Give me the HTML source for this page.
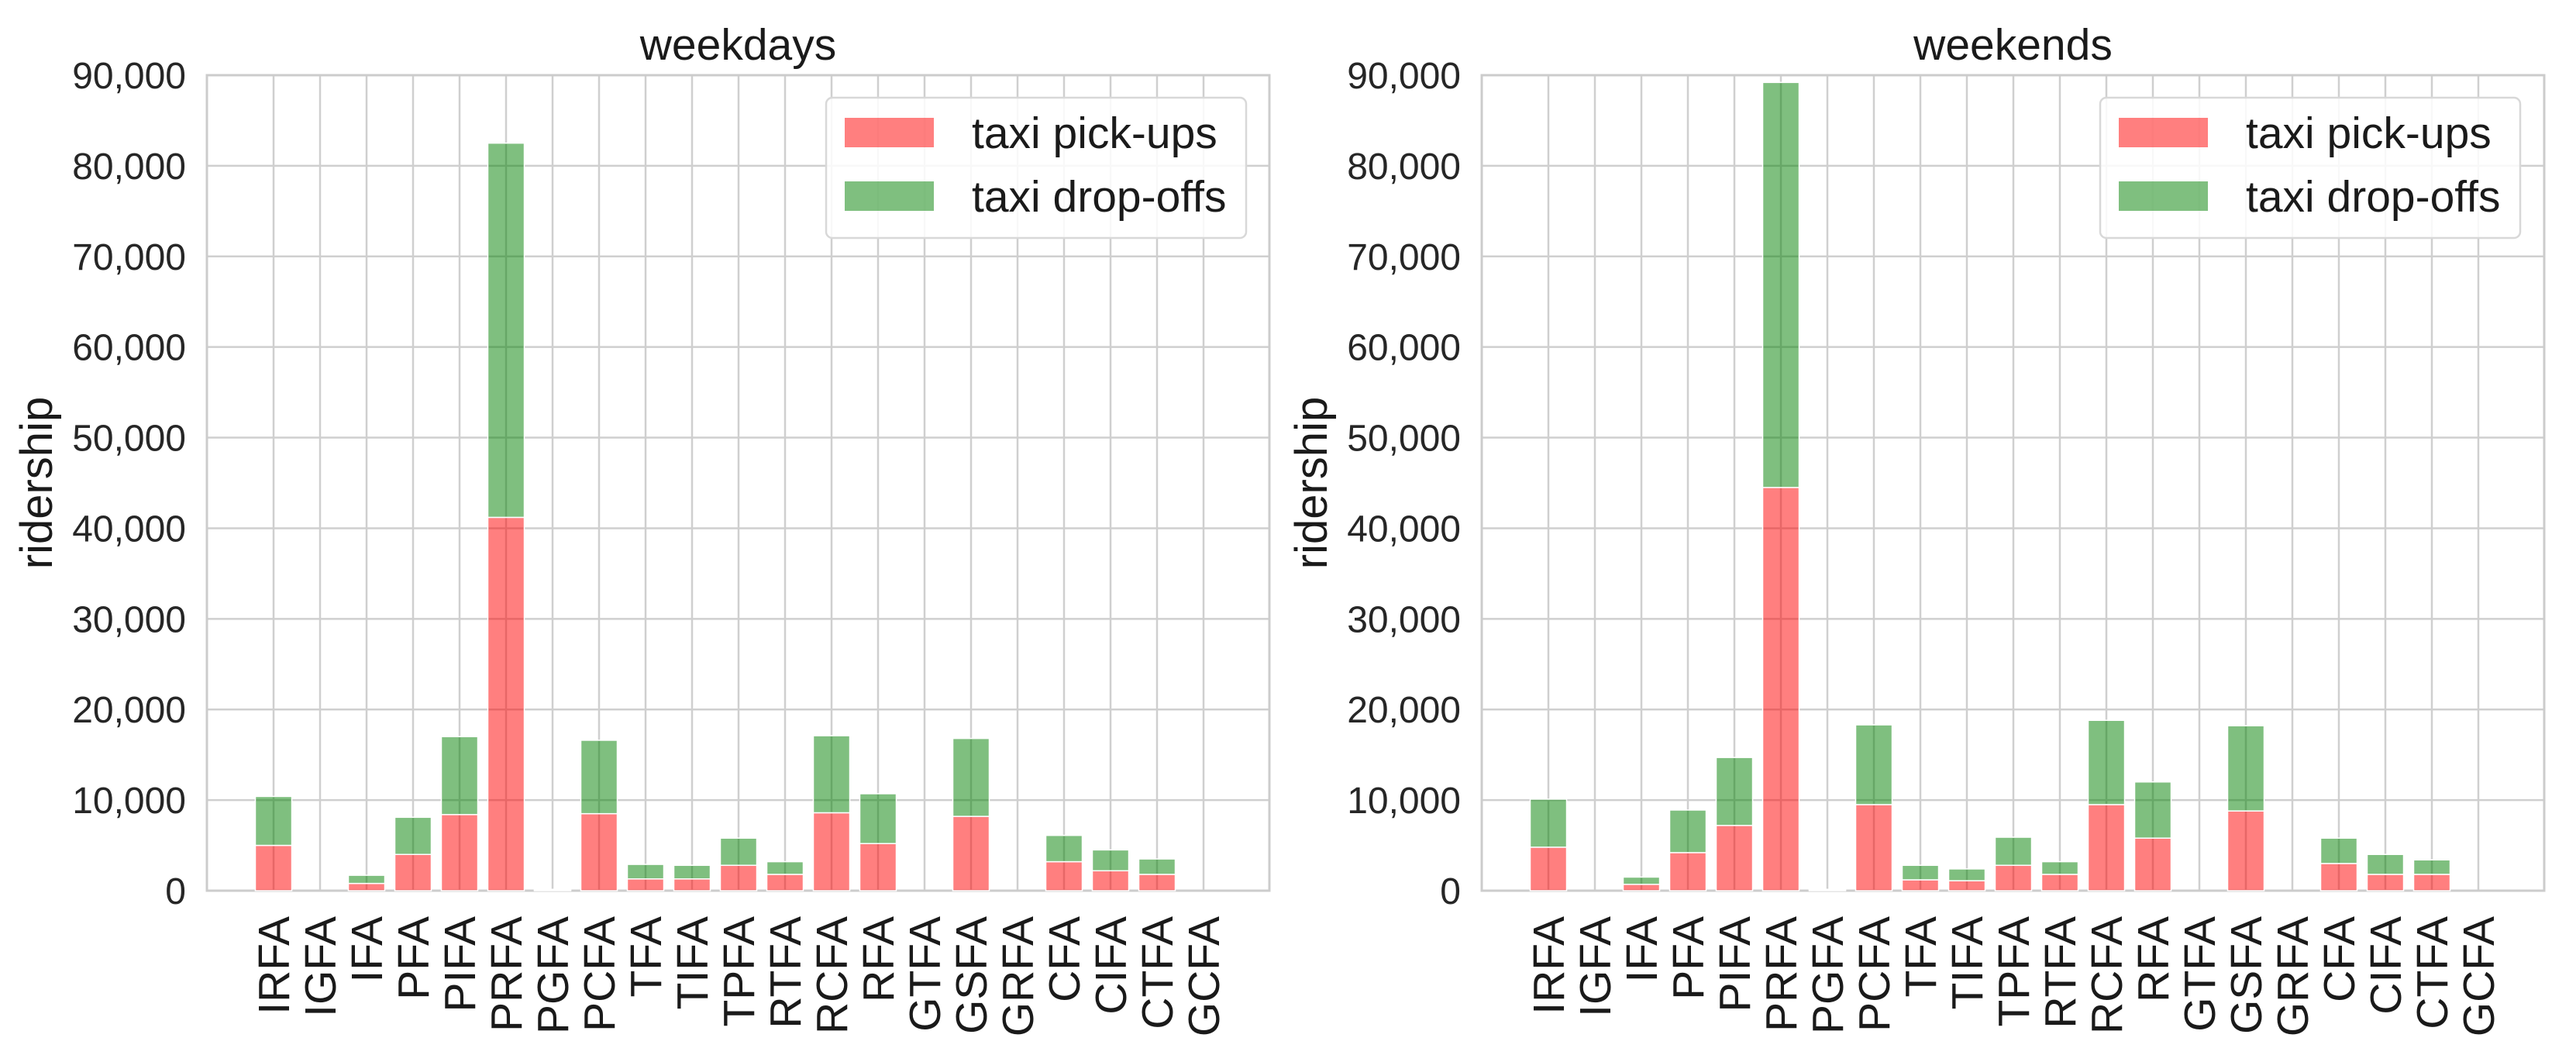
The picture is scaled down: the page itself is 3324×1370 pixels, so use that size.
<!DOCTYPE html>
<html><head><meta charset="utf-8"><style>
html,body{margin:0;padding:0;background:#fff;}
svg{display:block;font-family:"Liberation Sans",Arial,sans-serif;}
</style></head><body>
<svg id="fig" width="3324" height="1370" viewBox="0 0 3324 1370" xmlns="http://www.w3.org/2000/svg"></svg>
<script>
const categories = ["IRFA","IGFA","IFA","PFA","PIFA","PRFA","PGFA","PCFA","TFA","TIFA","TPFA","RTFA","RCFA","RFA","GTFA","GSFA","GRFA","CFA","CIFA","CTFA","GCFA"];
const weekdayPickups = [5000,0,800,4000,8400,41200,100,8500,1300,1300,2800,1800,8600,5200,0,8200,0,3200,2200,1800,0];
const weekdayDropoffs = [5400,0,900,4100,8600,41300,50,8100,1600,1500,3000,1400,8500,5500,0,8600,0,2900,2300,1700,0];
const weekendPickups = [4800,0,700,4200,7200,44500,100,9500,1200,1100,2800,1800,9500,5800,0,8800,0,3000,1800,1800,0];
const weekendDropoffs = [5300,0,800,4700,7500,44700,50,8800,1600,1300,3100,1400,9300,6200,0,9400,0,2800,2200,1600,0];
const yTicks = [0,10000,20000,30000,40000,50000,60000,70000,80000,90000];
const yTickLabels = ["0","10,000","20,000","30,000","40,000","50,000","60,000","70,000","80,000","90,000"];
const seriesNames = ["taxi pick-ups","taxi drop-offs"];

const NS="http://www.w3.org/2000/svg";
const svg=document.getElementById('fig');
function mk(tag,attrs,parent){const e=document.createElementNS(NS,tag);for(const k in attrs)e.setAttribute(k,attrs[k]);(parent||svg).appendChild(e);return e;}

function panel(x0,title,pick,drop,legX){
  const top=97,bottom=1149,x1=x0+1371;
  const g=mk('g',{});
  
  
  const yS=v=>bottom-(v/90000)*(bottom-top);
  const step=60, off=86;
  const xS=i=>x0+off+i*step;
  yTicks.forEach((t,i)=>{
    const l=mk('line',{x1:x0,x2:x1,y1:yS(t),y2:yS(t),stroke:'#cfcfcf','stroke-width':2.5},g);
    
    
    const tx=mk('text',{x:x0-27,y:yS(t)+17,'text-anchor':'end','font-size':48,fill:'#262626'},g);
    tx.textContent=yTickLabels[i];
    
    
  });
  categories.forEach((c,i)=>{
    const l=mk('line',{x1:xS(i),x2:xS(i),y1:top,y2:bottom,stroke:'#cfcfcf','stroke-width':2.5},g);
    
    
    const tx=mk('text',{x:0,y:0,'text-anchor':'end','font-size':57,fill:'#1a1a1a',transform:`translate(${xS(i)+20},1182) rotate(-90)`},g);
    tx.textContent=c;
    
    
  });
  const border=mk('rect',{x:x0,y:top,width:x1-x0,height:bottom-top,fill:'none',stroke:'#cccccc','stroke-width':3},g);
  
  
  const bw=47;
  categories.forEach((c,i)=>{
    const p=pick[i],d=drop[i];
    if(p>0){
      const r=mk('rect',{x:xS(i)-bw/2,y:yS(p),width:bw,height:yS(0)-yS(p),fill:'#ff0000','fill-opacity':0.5,stroke:'#fff','stroke-width':1.5},g);
      
      
    }
    if(d>0){
      const r=mk('rect',{x:xS(i)-bw/2,y:yS(p+d),width:bw,height:yS(p)-yS(p+d),fill:'#008000','fill-opacity':0.5,stroke:'#fff','stroke-width':1.5},g);
      
      
    }
  });
  const tt=mk('text',{x:(x0+x1)/2,y:77,'text-anchor':'middle','font-size':57,fill:'#1a1a1a'},g);
  tt.textContent=title;
  
  
  const yl=mk('text',{x:0,y:0,'text-anchor':'middle','font-size':58,fill:'#1a1a1a',transform:`translate(${x0-200},623) rotate(-90)`},g);
  yl.textContent='ridership';
  
  
  const lg=mk('g',{},g);
  
  
  mk('rect',{x:legX,y:126,width:542,height:181,rx:8,fill:'#fff','fill-opacity':0.85,stroke:'#d8d8d8','stroke-width':2.5},lg);
  const cols=['#ff0000','#008000'];
  [0,1].forEach(k=>{
    const yy=152+k*82;
    const e=mk('g',{},lg);
    
    
    mk('rect',{x:legX+24,y:yy,width:115,height:38,fill:cols[k],'fill-opacity':0.5},e);
    const t=mk('text',{x:legX+188,y:yy+39,'font-size':57,fill:'#1a1a1a'},e);
    t.textContent=seriesNames[k];
  });
}
panel(267,'weekdays',weekdayPickups,weekdayDropoffs,1066);
panel(1912,'weekends',weekendPickups,weekendDropoffs,2710);
</script>
</body></html>
